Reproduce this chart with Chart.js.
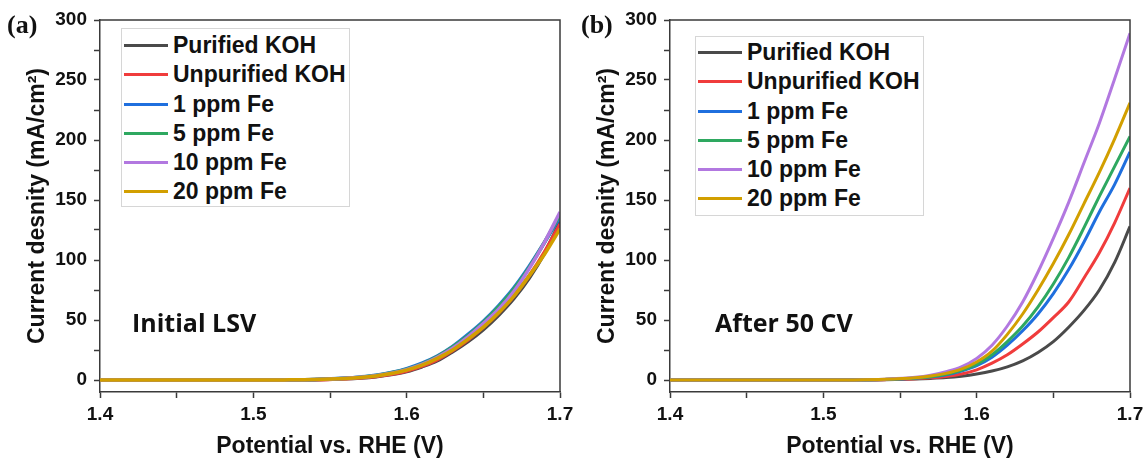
<!DOCTYPE html>
<html>
<head>
<meta charset="utf-8">
<script src="https://cdn.jsdelivr.net/npm/chart.js@4.4.1/dist/chart.umd.min.js"></script>
<style>
  body { margin: 0; background: #fff; width: 1146px; height: 460px; overflow: hidden; position: relative; }
  canvas { position: absolute; top: 0; }
  #chartA { left: 0; }
  #chartB { left: 570px; }
  .tag { position: absolute; font: bold 26px "Liberation Serif", "Times New Roman", serif; line-height: 26px; color: #111; }
  .note { position: absolute; font: bold 25px "Open Sans", sans-serif; line-height: 25px; color: #111; }
  .legend { position: absolute; border: 1px solid #d6d6d6; background: #fff; box-sizing: border-box; }
  .legend .row { position: relative; height: 29.3px; }
  .legend .swatch { position: absolute; left: 2px; top: 13px; width: 44px; height: 3px; }
  .legend .txt { position: absolute; left: 51px; top: 2px; font: bold 23px "Liberation Sans", Arial, sans-serif; line-height: 25px; color: #111; white-space: nowrap; }
</style>
</head>
<body>
<canvas id="chartA" width="573" height="460"></canvas>
<canvas id="chartB" width="576" height="460"></canvas>
<div class="tag" style="left:7px; top:12px;">(a)</div>
<div class="tag" style="left:581px; top:12px;">(b)</div>
<div class="note" style="left:132px; top:310px;">Initial LSV</div>
<div class="note" style="left:715px; top:310px;">After 50 CV</div>
<div class="legend" id="legendA" style="left:121px; top:28px; width:229px; height:179px; padding-top:2px;"></div>
<div class="legend" id="legendB" style="left:695px; top:36px; width:229px; height:180px; padding-top:1px;"></div>
<script>
// potential (V vs RHE) at which the currents were read
var potential = [1.40, 1.45, 1.50, 1.52, 1.54, 1.56, 1.57, 1.58, 1.59, 1.60,
                 1.61, 1.62, 1.63, 1.64, 1.65, 1.66, 1.67, 1.68, 1.69, 1.70];

var seriesNames  = ['Purified KOH', 'Unpurified KOH', '1 ppm Fe', '5 ppm Fe', '10 ppm Fe', '20 ppm Fe'];
var seriesColors = ['#4a4a4a', '#f03c3c', '#1f6fde', '#2ea860', '#b278e0', '#d29f00'];

// (a) initial LSV, mA/cm2
var lsvPurified   = [0, 0, 0, 0, 0.2, 1.0, 1.7, 2.8, 4.5, 7, 11, 16, 23.5, 32, 42, 54, 68, 85, 106, 132];
var lsvUnpurified = [0, 0, 0, 0, 0.2, 1.1, 1.8, 3, 4.8, 7.5, 11.5, 17, 24.5, 33.5, 44, 56, 70, 87, 107, 130];
var lsvFe1        = [0, 0, 0, 0.1, 0.5, 1.6, 2.6, 4, 6.3, 9.5, 14, 20, 28, 38, 49, 62, 77, 95, 115, 136];
var lsvFe5        = [0, 0, 0, 0.1, 0.4, 1.5, 2.4, 3.8, 6, 9, 13.5, 19.5, 27.5, 37, 48, 61, 76, 94, 115, 138];
var lsvFe10       = [0, 0, 0, 0.1, 0.4, 1.4, 2.3, 3.6, 5.7, 8.7, 13, 19, 26.5, 36, 47, 59, 74, 93, 115, 140];
var lsvFe20       = [0, 0, 0, 0.1, 0.4, 1.3, 2.1, 3.4, 5.4, 8.2, 12.3, 18, 25, 34, 44, 56, 70, 87, 105, 126];

// (b) after 50 CV, mA/cm2
var cvPurified   = [0, 0, 0, 0, 0.2, 0.8, 1.3, 2, 3.2, 5, 7.5, 11, 16, 23, 32, 44, 58, 75, 98, 128];
var cvUnpurified = [0, 0, 0, 0, 0.3, 1.0, 1.8, 3, 5, 8.5, 14, 21, 30, 40, 52, 65, 85, 106, 131, 160];
var cvFe1        = [0, 0, 0, 0, 0.4, 1.5, 2.6, 4.3, 7.5, 12, 19, 29, 41, 55, 72, 92, 115, 140, 163, 190];
var cvFe5        = [0, 0, 0, 0, 0.5, 1.6, 2.8, 4.8, 8, 13, 21, 32, 45, 61, 80, 102, 127, 153, 178, 203];
var cvFe10       = [0, 0, 0, 0.1, 0.7, 2.2, 4, 7, 11, 18, 29, 45, 65, 90, 118, 148, 181, 214, 251, 289];
var cvFe20       = [0, 0, 0, 0.1, 0.6, 1.9, 3.3, 5.5, 9, 15, 24, 38, 55, 75, 97, 121, 147, 173, 201, 231];

var xTicks = [1.4, 1.45, 1.5, 1.55, 1.6, 1.65, 1.7];
var xTickLabels = ['1.4', '', '1.5', '', '1.6', '', '1.7'];
var yTicks = [0, 25, 50, 75, 100, 125, 150, 175, 200, 225, 250, 275, 300];
var yTickLabels = ['0', '', '50', '', '100', '', '150', '', '200', '', '250', '', '300'];

var axisColor = '#3a3a3a';
var sans = '"Liberation Sans", Arial, sans-serif';

// top and right sides of the box
var framePlugin = {
    id: 'frame',
    afterDraw: function (chart) {
        var a = chart.chartArea, ctx = chart.ctx;
        ctx.save();
        ctx.strokeStyle = axisColor;
        ctx.lineWidth = 1.5;
        ctx.beginPath();
        ctx.moveTo(a.left, a.top);
        ctx.lineTo(a.right, a.top);
        ctx.lineTo(a.right, a.bottom);
        ctx.stroke();
        ctx.restore();
    }
};

function makeChart(id, values, padRight, lineWidth) {
    var datasets = values.map(function (vals, i) {
        return {
            label: seriesNames[i],
            data: vals.map(function (v, k) { return { x: potential[k], y: v }; }),
            borderColor: seriesColors[i],
            backgroundColor: seriesColors[i],
            borderWidth: lineWidth,
            pointRadius: 0,
            cubicInterpolationMode: 'monotone',
            order: values.length - i
        };
    });
    return new Chart(document.getElementById(id).getContext('2d'), {
        type: 'line',
        data: { datasets: datasets },
        plugins: [framePlugin],
        options: {
            responsive: false,
            animation: false,
            devicePixelRatio: 1,
            layout: { padding: { top: 20, right: padRight, left: 0, bottom: 0 } },
            plugins: { legend: { display: false }, tooltip: { enabled: false } },
            scales: {
                x: {
                    type: 'linear', min: 1.4, max: 1.7,
                    afterBuildTicks: function (s) { s.ticks = xTicks.map(function (v) { return { value: v }; }); },
                    afterFit: function (s) { s.height = 68; s.paddingLeft = 0; s.paddingRight = 0; },
                    grid: { drawOnChartArea: false, tickLength: 6, tickColor: axisColor, tickWidth: 1.5 },
                    border: { color: axisColor, width: 1.5 },
                    ticks: {
                        autoSkip: false, maxRotation: 0, padding: 5, color: '#111',
                        font: { family: sans, size: 19, weight: 'bold' },
                        callback: function (v, i) { return xTickLabels[i]; }
                    },
                    title: {
                        display: true, text: 'Potential vs. RHE (V)', color: '#111',
                        font: { family: sans, size: 23, weight: 'bold', lineHeight: 1 },
                        padding: { top: 0, bottom: 2 }
                    }
                },
                y: {
                    min: -10, max: 300,
                    afterBuildTicks: function (s) { s.ticks = yTicks.map(function (v) { return { value: v }; }); },
                    afterFit: function (s) { s.width = 100; s.paddingTop = 0; s.paddingBottom = 0; },
                    grid: { drawOnChartArea: false, tickLength: 6, tickColor: axisColor, tickWidth: 1.5 },
                    border: { color: axisColor, width: 1.5 },
                    ticks: {
                        autoSkip: false, padding: 7, color: '#111',
                        font: { family: sans, size: 19, weight: 'bold' },
                        callback: function (v, i) { return yTickLabels[i]; }
                    },
                    title: {
                        display: true, text: 'Current desnity (mA/cm²)', color: '#111',
                        font: { family: sans, size: 23, weight: 'bold', lineHeight: 1 },
                        padding: { top: 26, bottom: 0 }
                    }
                }
            }
        }
    });
}

function makeLegend(id) {
    var box = document.getElementById(id);
    seriesNames.forEach(function (name, i) {
        var row = document.createElement('div');
        row.className = 'row';
        row.innerHTML = '<span class="swatch" style="background:' + seriesColors[i] + '"></span><span class="txt">' + name + '</span>';
        box.appendChild(row);
    });
}

makeChart('chartA', [lsvPurified, lsvUnpurified, lsvFe1, lsvFe5, lsvFe10, lsvFe20], 13, 3.5);
makeChart('chartB', [cvPurified, cvUnpurified, cvFe1, cvFe5, cvFe10, cvFe20], 16, 3);
makeLegend('legendA');
makeLegend('legendB');
</script>
</body>
</html>
